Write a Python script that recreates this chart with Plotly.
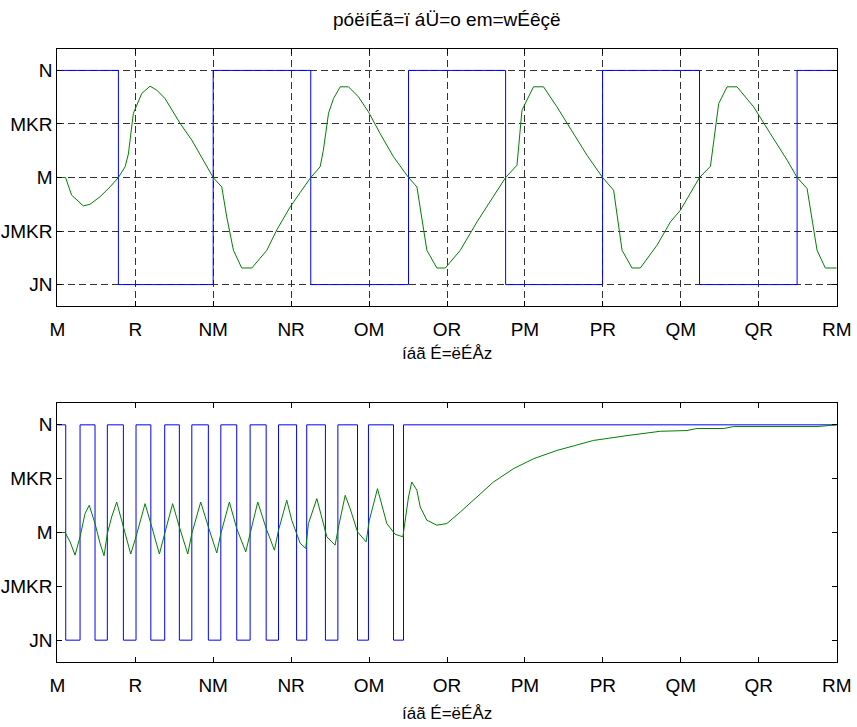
import plotly.graph_objects as go

# ---------------- data ----------------
# top panel: square input (step transitions) and response
top_u_t = [0, 3.92, 10.0, 16.26, 22.53, 28.76, 34.98, 41.2, 47.46, 50]
top_u_v = [1, -1, 1, -1, 1, -1, 1, -1, 1, 1]

top_y_t = [0, 0.53, 0.92, 1.67, 2.1, 2.74, 3.38, 3.92, 4.35, 4.56, 4.88, 5.42, 5.95, 6.38,
           6.91, 7.88, 8.63, 9.37, 10.0, 10.55, 10.87, 11.3, 11.83, 12.48, 12.8, 13.44,
           14.08, 14.94, 15.58, 16.26, 16.86, 17.07, 17.4, 17.72, 18.15, 18.68, 19.32,
           19.96, 20.71, 21.57, 22.53, 23.07, 23.71, 24.35, 24.89, 25.85, 26.92, 27.98,
           28.76, 29.49, 29.81, 30.55, 31.19, 32.05, 32.7, 33.12, 33.98, 34.98, 35.69,
           36.23, 36.87, 37.4, 38.47, 39.33, 39.97, 41.2, 41.9, 42.43, 42.97, 43.6, 44.67,
           45.74, 46.82, 47.46, 48.1, 48.74, 49.27, 50]
top_y_v = [0, 0, -0.165, -0.265, -0.25, -0.18, -0.088, 0, 0.1, 0.22, 0.6, 0.785, 0.853, 0.816,
           0.738, 0.505, 0.349, 0.162, 0, -0.088, -0.368, -0.68, -0.845, -0.845, -0.789, -0.68,
           -0.49, -0.275, -0.14, 0, 0.1, 0.255, 0.6, 0.738, 0.847, 0.847, 0.753,
           0.613, 0.41, 0.193, 0, -0.088, -0.68, -0.845, -0.845, -0.68, -0.415, -0.18,
           0, 0.115, 0.629, 0.847, 0.847, 0.66, 0.505, 0.41, 0.208, 0, -0.119,
           -0.68, -0.845, -0.845, -0.633, -0.415, -0.306, 0, 0.105, 0.69, 0.847, 0.847, 0.66,
           0.41, 0.162, 0, -0.103, -0.68, -0.845, -0.845]

# bottom panel
bot_u_t = [0, 0.54, 1.46, 2.42, 3.21, 4.24, 5.05, 6.0, 6.89, 7.83, 8.63, 9.69, 10.49,
           11.51, 12.37, 13.4, 14.19, 15.35, 16.0, 17.2, 18.0, 19.26, 19.96, 21.57, 22.21, 50]
bot_u_v = [1, -1, 1, -1, 1, -1, 1, -1, 1, -1, 1, -1, 1,
           -1, 1, -1, 1, -1, 1, -1, 1, -1, 1, -1, 1, 1]

bot_y_t = [0, 0.5, 0.82, 1.14, 1.46, 1.78, 2.05, 2.42, 2.74, 3.0, 3.21, 3.49, 3.81, 4.24,
           4.71, 5.05, 5.63, 6.0, 6.55, 6.89, 7.4, 7.83, 8.37, 8.63, 9.2, 9.69, 10.23,
           10.49, 11.04, 11.51, 12.09, 12.37, 12.86, 13.4, 13.93, 14.19, 14.72, 15.04,
           15.37, 15.58, 15.94, 16.11, 16.65, 16.97, 17.29, 17.82, 18.04, 18.47, 18.79,
           19.26, 19.81, 20.02, 20.54, 21.14, 21.67, 22.17, 22.53, 22.74, 23.07, 23.28,
           23.71, 24.35, 24.99, 25.85, 27.13, 27.98, 29.27, 30.55, 32.05, 33.55, 34.4,
           36.55, 38.68, 40.4, 41.04, 42.75, 43.39, 48.74, 50]
bot_y_v = [0, 0, -0.087, -0.21, -0.04, 0.176, 0.253, 0.083, -0.1, -0.216, -0.01, 0.145, 0.283, 0.052,
           -0.2, -0.04, 0.268, 0.083, -0.2, -0.01, 0.268, 0.052, -0.2, -0.01, 0.283, 0.052, -0.19,
           -0.01, 0.283, 0.037, -0.18, -0.01, 0.283, 0.037, -0.164, 0.02, 0.3, 0.114,
           -0.01, -0.1, -0.148, 0.083, 0.315, 0.145, -0.04, -0.118, 0.052, 0.345, 0.22,
           0.006, -0.087, 0.114, 0.407, 0.083, -0.016, -0.04, 0.33, 0.469, 0.392, 0.237,
           0.114, 0.068, 0.083, 0.19, 0.361, 0.469, 0.593, 0.685, 0.762, 0.824, 0.855,
           0.9, 0.94, 0.947, 0.966, 0.966, 0.984, 0.984, 1.0]

x_tick_vals = [0, 5, 10, 15, 20, 25, 30, 35, 40, 45, 50]
x_tick_text = ["M", "R", "NM", "NR", "OM", "OR", "PM", "PR", "QM", "QR", "RM"]
y_tick_vals = [-1, -0.5, 0, 0.5, 1]
y_tick_text = ["JN", "JMKR", "M", "MKR", "N"]

title_text = "póëíÉã=ï áÜ=o em=wÉêçë"
xlabel_text = "íáã É=ëÉÅz"

# ---------------- figure ----------------
W, H = 857, 727
FONT = "Liberation Sans, Arial, sans-serif"
BLUE = "#0000ff"
GREEN = "#008000"

fig = go.Figure()
fig.add_trace(go.Scatter(x=top_u_t, y=top_u_v, mode="lines", line=dict(color=BLUE, width=1, shape="hv"),
                         xaxis="x", yaxis="y", showlegend=False))
fig.add_trace(go.Scatter(x=top_y_t, y=top_y_v, mode="lines", line=dict(color=GREEN, width=1),
                         xaxis="x", yaxis="y", showlegend=False))
fig.add_trace(go.Scatter(x=bot_u_t, y=bot_u_v, mode="lines", line=dict(color=BLUE, width=1, shape="hv"),
                         xaxis="x2", yaxis="y2", showlegend=False))
fig.add_trace(go.Scatter(x=bot_y_t, y=bot_y_v, mode="lines", line=dict(color=GREEN, width=1),
                         xaxis="x2", yaxis="y2", showlegend=False))

xl, xr = 57.3 / W, 836.7 / W
top_dom = [1 - 306 / H, 1 - 49 / H]
bot_dom = [1 - 661.7 / H, 1 - 403.3 / H]

common_x = dict(range=[0, 50], tickmode="array", tickvals=x_tick_vals, ticktext=x_tick_text,
                ticks="inside", ticklen=5, tickcolor="black", showline=True, linecolor="black",
                linewidth=1, mirror="allticks", zeroline=False, domain=[xl, xr],
                ticklabelstandoff=6,
                tickfont=dict(family=FONT, size=19, color="black"))
common_y = dict(range=[-1.2, 1.2], tickmode="array", tickvals=y_tick_vals, ticktext=y_tick_text,
                ticks="inside", ticklen=5, tickcolor="black", showline=True, linecolor="black",
                linewidth=1, mirror="allticks", zeroline=False,
                tickfont=dict(family=FONT, size=19, color="black"))

GRID = dict(showgrid=True, gridcolor="#333333", griddash="7px,4px", gridwidth=1)

fig.update_layout(
    width=W, height=H,
    margin=dict(l=0, r=0, t=0, b=0, autoexpand=False),
    plot_bgcolor="white", paper_bgcolor="white",
    xaxis=dict(common_x, anchor="y", **GRID),
    yaxis=dict(common_y, anchor="x", domain=top_dom, **GRID),
    xaxis2=dict(common_x, anchor="y2", showgrid=False),
    yaxis2=dict(common_y, anchor="x2", domain=bot_dom, showgrid=False),
    annotations=[
        dict(text=title_text, x=(xl + xr) / 2, y=1 - 20 / H, xref="paper", yref="paper",
             showarrow=False, font=dict(family=FONT, size=19, color="black"), xanchor="center", yanchor="middle"),
        dict(text=xlabel_text, x=(xl + xr) / 2, y=1 - 353 / H, xref="paper", yref="paper",
             showarrow=False, font=dict(family=FONT, size=17, color="black"), xanchor="center", yanchor="middle"),
        dict(text=xlabel_text, x=(xl + xr) / 2, y=1 - 713 / H, xref="paper", yref="paper",
             showarrow=False, font=dict(family=FONT, size=17, color="black"), xanchor="center", yanchor="middle"),
    ],
)

fig.write_html("out.html")
